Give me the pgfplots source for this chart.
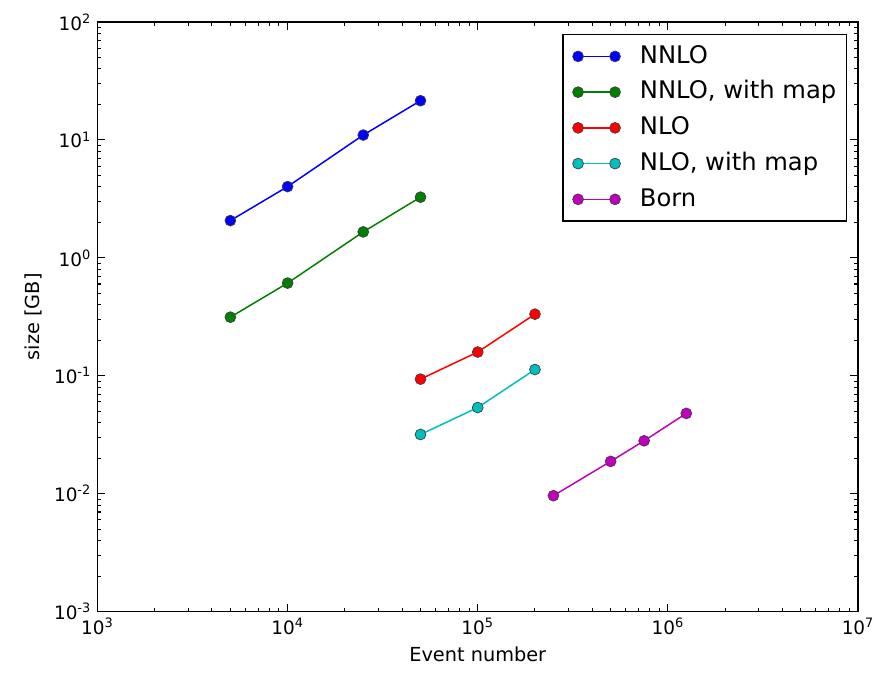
\documentclass[border=0pt]{standalone}
\usepackage{pgfplots}
\pgfplotsset{compat=1.18}
\usepackage{fontspec}
\setmainfont{DejaVu Sans}
\definecolor{mplgreen}{rgb}{0,0.5,0}
\definecolor{mplcyan}{rgb}{0,0.75,0.75}
\definecolor{mplmag}{rgb}{0.75,0,0.75}
\begin{document}
\begin{tikzpicture}
\path[use as bounding box] (-1.95cm,-1.22cm) rectangle (15.74cm,12.24cm);
\begin{axis}[
  at={(0,0)}, anchor=south west,
  scale only axis, width=15.22cm, height=11.8cm,
  xmode=log, ymode=log,
  xmin=1e3, xmax=1e7, ymin=1e-3, ymax=1e2,
  axis line style={line width=0.8pt},
  xtick={1e3,1e4,1e5,1e6,1e7},
  xticklabels={10\textsuperscript{3},10\textsuperscript{4},10\textsuperscript{5},10\textsuperscript{6},10\textsuperscript{7}},
  ytick={1e-3,1e-2,1e-1,1e0,1e1,1e2},
  yticklabels={10\textsuperscript{-3},10\textsuperscript{-2},10\textsuperscript{-1},10\textsuperscript{0},10\textsuperscript{1},10\textsuperscript{2}},
  minor xtick={2e3,3e3,4e3,5e3,6e3,7e3,8e3,9e3,2e4,3e4,4e4,5e4,6e4,7e4,8e4,9e4,2e5,3e5,4e5,5e5,6e5,7e5,8e5,9e5,2e6,3e6,4e6,5e6,6e6,7e6,8e6,9e6},
  minor ytick={2e-3,3e-3,4e-3,5e-3,6e-3,7e-3,8e-3,9e-3,2e-2,3e-2,4e-2,5e-2,6e-2,7e-2,8e-2,9e-2,2e-1,3e-1,4e-1,5e-1,6e-1,7e-1,8e-1,9e-1,2,3,4,5,6,7,8,9,20,30,40,50,60,70,80,90},
  major tick length=0.16cm, minor tick length=0.08cm,
  every tick/.style={black, line width=0.6pt},
  tick align=inside,
  tick label style={font=\fontsize{10.5}{12}\selectfont},
  label style={font=\fontsize{11}{13}\selectfont},
  xlabel={Event number},
  ylabel={size [GB]},
  legend style={at={(1,1)}, anchor=north east, xshift=-0.22cm, yshift=-0.24cm,
    draw=black, line width=0.8pt, font=\fontsize{13.8}{16}\selectfont,
    inner xsep=0.1cm, inner ysep=0.11cm, row sep=0.065cm,
    nodes={text height=0.36cm, text depth=0.09cm, inner sep=0.1cm},
    /tikz/every odd column/.append style={column sep=0.29cm}},
  legend cell align=left,
  legend image code/.code={\path (-0.19cm,0cm); \draw[#1] plot coordinates {(0cm,0cm) (0.74cm,0cm)};},
  every axis plot/.append style={line width=0.85pt, mark=*, mark size=3.1pt,
    mark options={draw=black!75, line width=0.4pt}},
]
\addplot[color=blue] coordinates {(5000,2.07) (10000,4.02) (25000,11.0) (50000,21.5)};
\addlegendentry{NNLO}
\addplot[color=mplgreen] coordinates {(5000,0.314) (10000,0.611) (25000,1.66) (50000,3.27)};
\addlegendentry{NNLO, with map}
\addplot[color=red] coordinates {(50000,0.0937) (100000,0.159) (200000,0.333)};
\addlegendentry{NLO}
\addplot[color=mplcyan] coordinates {(50000,0.0318) (100000,0.0538) (200000,0.113)};
\addlegendentry{NLO, with map}
\addplot[color=mplmag] coordinates {(250000,0.00962) (500000,0.0188) (750000,0.0281) (1250000,0.048)};
\addlegendentry{Born}
\end{axis}
\end{tikzpicture}
\end{document}
